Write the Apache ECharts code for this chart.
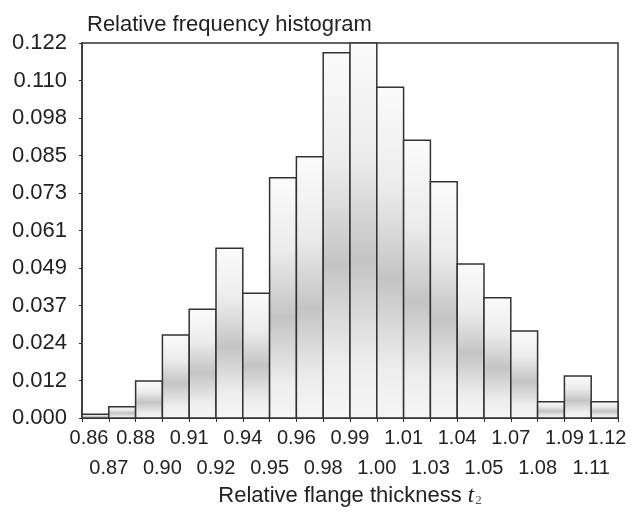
<!DOCTYPE html>
<html><head><meta charset="utf-8">
<script src="https://cdn.jsdelivr.net/npm/echarts@6/dist/echarts.min.js"></script>
<style>html,body{margin:0;padding:0;background:#fff}#c{width:631px;height:512px}</style>
</head><body><div id="c"></div>
<script>
// bin edge labels (21 edges, 20 bins)
const edgeLabels = ['0.86','0.87','0.88','0.90','0.91','0.92','0.94','0.95','0.96','0.98','0.99','1.00','1.01','1.03','1.04','1.05','1.07','1.08','1.09','1.11','1.12'];
// relative frequency per bin
const freqs = [0.0012,0.0037,0.0120,0.0270,0.0354,0.0552,0.0406,0.0782,0.0850,0.1188,0.1220,0.1076,0.0904,0.0769,0.0501,0.0391,0.0283,0.0053,0.0137,0.0053];
const yTickLabels = ['0.000','0.012','0.024','0.037','0.049','0.061','0.073','0.085','0.098','0.110','0.122'];
const yStep = 0.0122;

const chart = echarts.init(document.getElementById('c'));
const font = 'Liberation Sans, Arial, sans-serif';
const lblBase = {fontFamily: font, fontSize: 20, color: '#222', showMinLabel: true, showMaxLabel: true, hideOverlap: false};
chart.setOption({
  animation: false,
  title: {text: 'Relative frequency histogram', left: 82, top: 9,
    textStyle: {fontFamily: font, fontSize: 22, fontWeight: 'normal', color: '#222'}},
  grid: {left: 82, right: 13, top: 43, bottom: 94, show: true, borderColor: '#333', borderWidth: 1.5,
    backgroundColor: '#fff', outerBoundsMode: 'none', containLabel: false},
  xAxis: [{
    type: 'value', min: 0, max: 20, interval: 1,
    axisLine: {lineStyle: {color: '#333', width: 1.5}},
    axisTick: {show: true, length: 4, lineStyle: {color: '#333'}},
    splitLine: {show: false},
    axisLabel: Object.assign({}, lblBase, {margin: 10,
      rich: {
        f: {fontFamily: font, fontSize: 20, color: '#222', padding: [0, 0, 0, 14]},
        l: {fontFamily: font, fontSize: 20, color: '#222', padding: [0, 22, 0, 0]}
      },
      formatter: v => {
        const i = Math.round(v);
        if (i % 2 === 1) return '';
        if (i === 0) return '{f|' + edgeLabels[i] + '}';
        if (i === edgeLabels.length - 1) return '{l|' + edgeLabels[i] + '}';
        return edgeLabels[i];
      }}),
    name: 'Relative flange thickness {i|t}{s|2}', nameLocation: 'middle', nameGap: 66,
    nameTextStyle: {fontFamily: font, fontSize: 22, color: '#222',
      rich: {i: {fontFamily: 'Liberation Serif, serif', fontStyle: 'italic', fontSize: 23, color: '#222'},
             s: {fontFamily: 'Liberation Serif, serif', fontSize: 13, color: '#555', verticalAlign: 'bottom', padding: [8,0,0,1]}}}
  }, {
    type: 'value', min: 0, max: 20, interval: 1, position: 'bottom',
    axisLine: {show: false}, axisTick: {show: false}, splitLine: {show: false},
    axisLabel: Object.assign({}, lblBase, {margin: 40,
      formatter: v => { const i = Math.round(v); return i % 2 === 1 ? edgeLabels[i] : ''; }})
  }],
  yAxis: {
    type: 'value', min: 0, max: 0.122, interval: yStep,
    axisLine: {show: true, lineStyle: {color: '#333', width: 1.5}},
    axisTick: {show: true, length: 3, lineStyle: {color: '#333'}},
    splitLine: {show: false},
    axisLabel: {fontFamily: font, fontSize: 22, color: '#222', margin: 15,
      formatter: v => yTickLabels[Math.round(v / yStep)]}
  },
  series: [{
    type: 'custom',
    xAxisIndex: 0,
    data: freqs.map((v, i) => [i, v]),
    renderItem: (params, api) => {
      const i = api.value(0), v = api.value(1);
      const p0 = api.coord([i, v]);
      const p1 = api.coord([i + 1, 0]);
      return {
        type: 'rect',
        shape: {x: p0[0], y: p0[1], width: p1[0] - p0[0], height: p1[1] - p0[1]},
        style: {
          fill: {type: 'linear', x: 0, y: 0, x2: 0, y2: 1, colorStops: [
            {offset: 0, color: '#fbfbfb'}, {offset: 0.3, color: '#ececec'},
            {offset: 0.58, color: '#c4c4c4'}, {offset: 0.85, color: '#ededed'}, {offset: 1, color: '#f6f6f6'}]},
          stroke: '#333', lineWidth: 1.5
        }
      };
    }
  }]
});
</script></body></html>
